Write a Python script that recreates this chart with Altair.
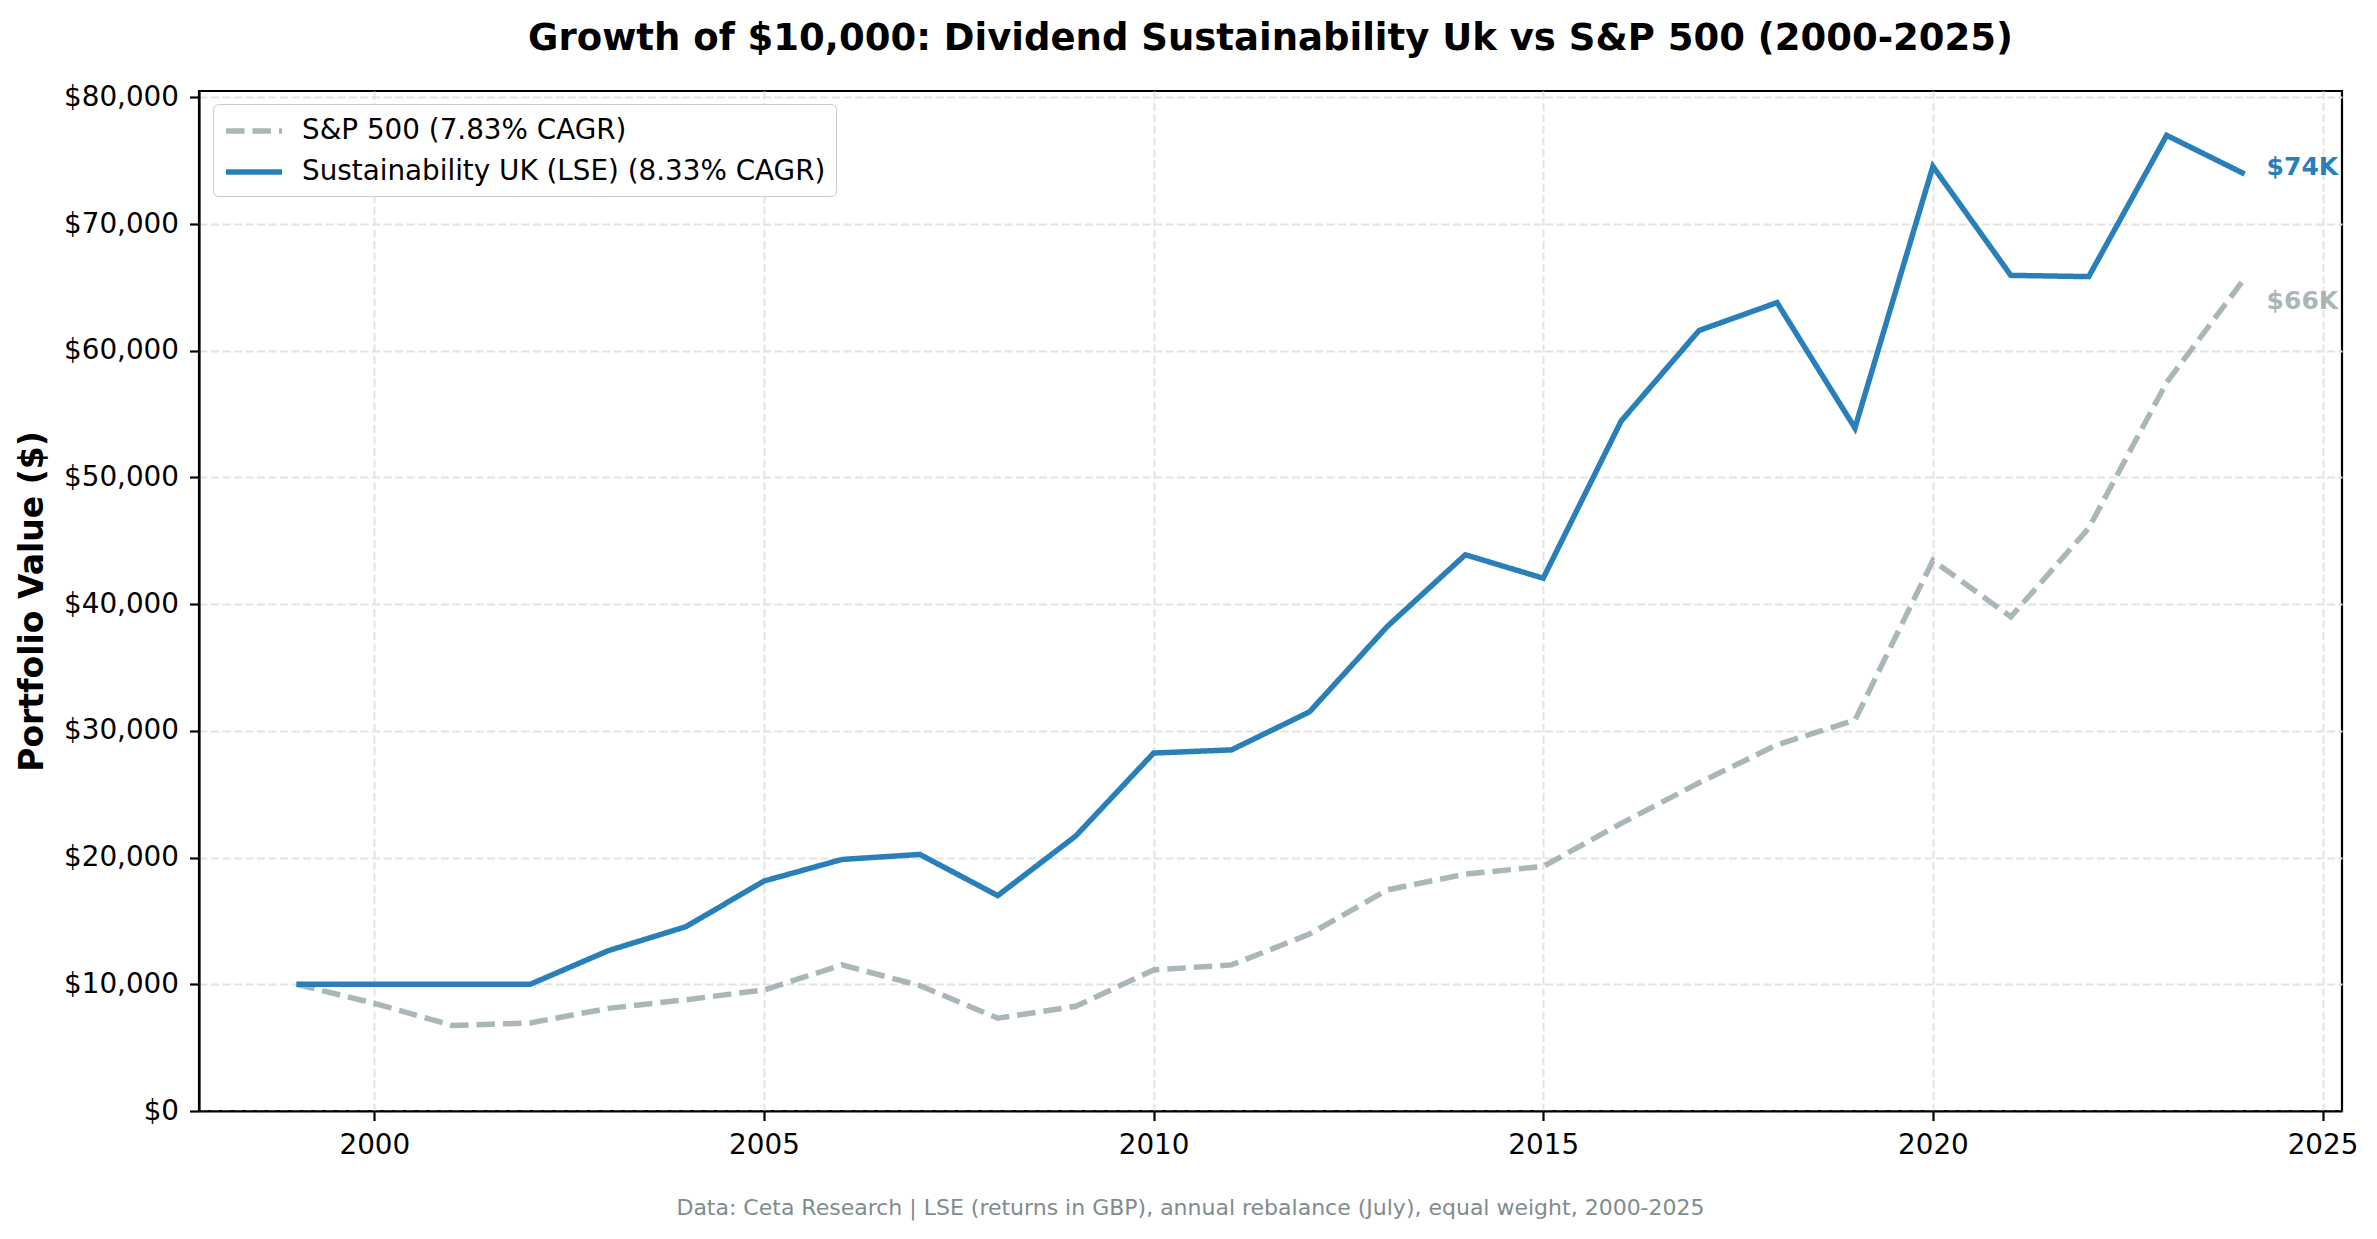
import altair as alt
import pandas as pd

years = list(range(1999, 2025))
sust_values = [10000, 10000, 10000, 10000, 12650, 14550, 18150, 19850, 20250, 17000,
               21700, 28250, 28500, 31500, 38250, 43900, 42050, 54450, 61600, 63800,
               53900, 74550, 65950, 65850, 77000, 73950]
sp_values = [10000, 8500, 6750, 6950, 8100, 8780, 9550, 11530, 9900, 7320,
             8260, 11130, 11530, 13960, 17450, 18700, 19300, 22700, 25900, 28900,
             30850, 43450, 39000, 46000, 57500, 65700]
series_names = ["S&P 500 (7.83% CAGR)", "Sustainability UK (LSE) (8.33% CAGR)"]
series_colors = ["#95a5a6", "#2980b9"]
end_labels = ["$66K", "$74K"]
x_ticks = [2000, 2005, 2010, 2015, 2020, 2025]
y_ticks = [0, 10000, 20000, 30000, 40000, 50000, 60000, 70000, 80000]

title_text = "Growth of $10,000: Dividend Sustainability Uk vs S&P 500 (2000-2025)"
footer_text = "Data: Ceta Research | LSE (returns in GBP), annual rebalance (July), equal weight, 2000-2025"

rows = []
for y, v in zip(years, sp_values):
    rows.append({"series": series_names[0], "order": 0, "year": y, "value": v})
for y, v in zip(years, sust_values):
    rows.append({"series": series_names[1], "order": 1, "year": y, "value": v})
df = pd.DataFrame(rows)

end_df = pd.DataFrame({
    "series": series_names,
    "year": [years[-1], years[-1]],
    "value": [sp_values[-1], sust_values[-1]],
    "label": end_labels,
})

FONT = "DejaVu Sans"
W, H = 2143, 1020

x_enc = alt.X("year:Q",
              scale=alt.Scale(domain=[1997.75, 2025.25], nice=False, zero=False),
              axis=alt.Axis(values=x_ticks, format="d", title=footer_text,
                            titleX=991, titleY=96, titleBaseline="middle",
                            titleAnchor="middle", titleAlign="center",
                            titleFontSize=22, titleFontWeight="normal",
                            titleColor="#7f8c8d", titleFont=FONT))
y_enc = alt.Y("value:Q",
              scale=alt.Scale(domain=[0, 80500], nice=False),
              axis=alt.Axis(values=y_ticks, format="$,.0f", title="Portfolio Value ($)",
                            titleFontSize=33, titleFontWeight="bold", titlePadding=14,
                            titleFont=FONT, titleColor="black"))

lines = alt.Chart(df).mark_line(strokeWidth=5.5, strokeCap="butt").encode(
    x=x_enc,
    y=y_enc,
    color=alt.Color("series:N",
                    scale=alt.Scale(domain=series_names, range=series_colors),
                    legend=alt.Legend(title=None, orient="none", legendX=14, legendY=13,
                                      symbolType="M-1,0L3,0", symbolSize=784,
                                      symbolStrokeWidth=5.5, labelFontSize=27.8,
                                      labelFont=FONT, labelColor="black",
                                      labelLimit=1000, labelOffset=45,
                                      rowPadding=10, padding=10,
                                      strokeColor="#cccccc", cornerRadius=5,
                                      fillColor="white")),
    strokeDash=alt.StrokeDash("series:N",
                              scale=alt.Scale(domain=series_names,
                                              range=[[18.5, 8], [1, 0]]),
                              legend=alt.Legend(title=None, orient="none", legendX=14,
                                                legendY=13)),
    opacity=alt.Opacity("series:N",
                        scale=alt.Scale(domain=series_names, range=[0.8, 1.0]),
                        legend=None),
    order=alt.Order("order:Q"),
    detail="series:N",
)

sp_label = alt.Chart(end_df).transform_filter(
    alt.datum.series == series_names[0]
).mark_text(align="left", baseline="middle", dx=22, dy=22, fontSize=25,
            fontWeight="bold", font=FONT, color="#95a5a6", opacity=0.8).encode(
    x="year:Q", y="value:Q", text="label:N")

sust_label = alt.Chart(end_df).transform_filter(
    alt.datum.series == series_names[1]
).mark_text(align="left", baseline="middle", dx=22, dy=-7, fontSize=25,
            fontWeight="bold", font=FONT, color="#2980b9").encode(
    x="year:Q", y="value:Q", text="label:N")

chart = alt.layer(lines, sp_label, sust_label).properties(
    width=W, height=H,
    title=alt.Title(title_text, fontSize=37, fontWeight="bold", font=FONT,
                    color="black", anchor="middle", offset=25),
    padding={"left": 191, "top": 83, "right": 20, "bottom": 112},
    autosize=alt.AutoSizeParams(type="none"),
).configure_view(
    stroke="black", strokeWidth=2.2
).configure_axis(
    grid=True, gridColor="#e3e3e3", gridDash=[8, 3.5], gridWidth=2,
    domainColor="black", domainWidth=2.2,
    tickColor="black", tickWidth=2.2, tickSize=9.5,
    labelFont=FONT, labelFontSize=27.8, labelColor="black", labelPadding=11,
)

chart.save("out.html", embed_options={"renderer": "svg", "actions": False})
